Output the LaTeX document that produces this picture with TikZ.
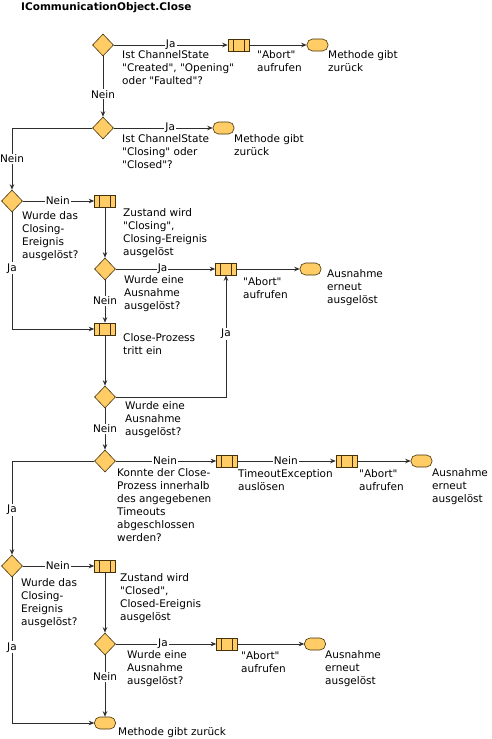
\documentclass[tikz,border=0pt]{standalone}
\usepackage{fontspec}
\setmainfont{DejaVu Sans}[Ligatures=TeXOff]
\usetikzlibrary{shapes.geometric,arrows.meta}
\definecolor{fillc}{RGB}{255,204,102}
\definecolor{edgec}{RGB}{70,50,10}
\definecolor{linec}{RGB}{45,45,45}
\begin{document}
\begin{tikzpicture}[x=1pt,y=-1pt,
  dec/.style={diamond, draw=edgec, fill=fillc, minimum width=21pt, minimum height=22pt, inner sep=0pt, line width=0.6pt},
  proc/.style={rectangle, draw=edgec, fill=fillc, minimum width=21pt, minimum height=12pt, inner sep=0pt, line width=0.6pt,
    path picture={\draw[edgec, line width=0.6pt]
      ([xshift=5pt]path picture bounding box.north west) -- ([xshift=5pt]path picture bounding box.south west)
      ([xshift=-5pt]path picture bounding box.north east) -- ([xshift=-5pt]path picture bounding box.south east);}},
  term/.style={rectangle, rounded corners=5.5pt, draw=edgec, fill=fillc, minimum width=21pt, minimum height=12pt, inner sep=0pt, line width=0.6pt},
  txt/.style={anchor=north west, align=left, inner sep=0pt, font=\fontsize{10.5}{13}\selectfont},
  lbl/.style={fill=white, inner sep=1pt, font=\fontsize{10.5}{13}\selectfont},
  conn/.style={draw=linec, line width=0.7pt, -{Stealth[length=5.5pt, width=4.5pt]}}
]
\useasboundingbox (0,0) rectangle (492,739);

\node[anchor=west, inner sep=0pt, font=\fontsize{10.5}{13}\selectfont\bfseries] (title) at (21,8) {ICommunicationObject.Close};

% shapes
\node[dec]  (d1) at (103,45) {};
\node[proc] (p1) at (238.5,45) {};
\node[term] (t1) at (317.5,45) {};
\node[dec]  (d2) at (103,128) {};
\node[term] (t2) at (223.5,128) {};
\node[dec]  (d3) at (12,201) {};
\node[proc] (p2) at (105,201) {};
\node[dec]  (d4) at (105,269) {};
\node[proc] (p3) at (226,269) {};
\node[term] (t3) at (310.5,269) {};
\node[proc] (p4) at (105,329) {};
\node[dec]  (d5) at (105,397) {};
\node[dec]  (d6) at (105,461) {};
\node[proc] (p5) at (227,461) {};
\node[proc] (p6) at (346.5,461) {};
\node[term] (t4) at (421.5,461) {};
\node[dec]  (d7) at (12,566) {};
\node[proc] (p7) at (105,566) {};
\node[dec]  (d8) at (105,644) {};
\node[proc] (p8) at (227,644) {};
\node[term] (t5) at (315,644) {};
\node[term] (t6) at (105,723) {};

% texts
\node[txt] (q1) at (122,50.5) {Ist ChannelState\\"Created", "Opening"\\oder "Faulted"?};
\node[txt] (a1) at (257,50.5) {"Abort"\\aufrufen};
\node[txt] (r1) at (328,50.5) {Methode gibt\\zurück};
\node[txt] (q2) at (122,134.5) {Ist ChannelState\\"Closing" oder\\"Closed"?};
\node[txt] (r2) at (234,134.5) {Methode gibt\\zurück};
\node[txt] (q3) at (22,211.5) {Wurde das\\Closing-\\Ereignis\\ausgelöst?};
\node[txt] (s1) at (123,208.5) {Zustand wird\\"Closing",\\Closing-Ereignis\\ausgelöst};
\node[txt] (q4) at (124,275.5) {Wurde eine\\Ausnahme\\ausgelöst?};
\node[txt] (a2) at (243,277.5) {"Abort"\\aufrufen};
\node[txt] (r3) at (327,269.5) {Ausnahme\\erneut\\ausgelöst};
\node[txt] (s2) at (123,333.5) {Close-Prozess\\tritt ein};
\node[txt] (q5) at (125,401.5) {Wurde eine\\Ausnahme\\ausgelöst?};
\node[txt] (q6) at (117,468.5) {Konnte der Close-\\Prozess innerhalb\\des angegebenen\\Timeouts\\abgeschlossen\\werden?};
\node[txt] (s3) at (238,469.5) {TimeoutException\\auslösen};
\node[txt] (a3) at (359,469.5) {"Abort"\\aufrufen};
\node[txt] (r4) at (432,468.5) {Ausnahme\\erneut\\ausgelöst};
\node[txt] (q7) at (21,578.5) {Wurde das\\Closing-\\Ereignis\\ausgelöst?};
\node[txt] (s4) at (120,573.5) {Zustand wird\\"Closed",\\Closed-Ereignis\\ausgelöst};
\node[txt] (q8) at (127,650.5) {Wurde eine\\Ausnahme\\ausgelöst?};
\node[txt] (a4) at (241,651.5) {"Abort"\\aufrufen};
\node[txt] (r5) at (325,650.5) {Ausnahme\\erneut\\ausgelöst};
\node[txt] (r6) at (118,727.5) {Methode gibt zurück};

% connectors
\draw[conn] (d1.east) -- node[lbl, pos=0.5] {Ja} (p1.west);
\draw[conn] (p1.east) -- (t1.west);
\draw[conn] (d1.south) -- node[lbl, pos=0.63] {Nein} (d2.north);
\draw[conn] (d2.east) -- node[lbl, pos=0.57] {Ja} (t2.west);
\draw[conn] (d2.west) -| node[lbl, pos=0.75] {Nein} (d3.north);
\draw[conn] (d3.east) -- node[lbl, pos=0.49] {Nein} (p2.west);
\draw[conn] (p2.south) -- (d4.north);
\draw[conn] (d4.east) -- node[lbl, pos=0.47] {Ja} (p3.west);
\draw[conn] (p3.east) -- (t3.west);
\draw[conn] (d4.south) -- node[lbl, pos=0.49] {Nein} (p4.north);
\draw[conn] (d3.south) |- node[lbl, pos=0.24] {Ja} (p4.west);
\draw[conn] (p4.south) -- (d5.north);
\draw[conn] (d5.east) -| node[lbl, pos=0.76] {Ja} (p3.south);
\draw[conn] (d5.south) -- node[lbl, pos=0.49] {Nein} (d6.north);
\draw[conn] (d6.east) -- node[lbl, pos=0.49] {Nein} (p5.west);
\draw[conn] (p5.east) -- node[lbl, pos=0.49] {Nein} (p6.west);
\draw[conn] (p6.east) -- (t4.west);
\draw[conn] (d6.west) -| node[lbl, pos=0.76] {Ja} (d7.north);
\draw[conn] (d7.east) -- node[lbl, pos=0.49] {Nein} (p7.west);
\draw[conn] (p7.south) -- (d8.north);
\draw[conn] (d8.east) -- node[lbl, pos=0.47] {Ja} (p8.west);
\draw[conn] (p8.east) -- (t5.west);
\draw[conn] (d8.south) -- node[lbl, pos=0.35] {Nein} (t6.north);
\draw[conn] (d7.south) |- node[lbl, pos=0.24] {Ja} (t6.west);
\end{tikzpicture}
\end{document}
